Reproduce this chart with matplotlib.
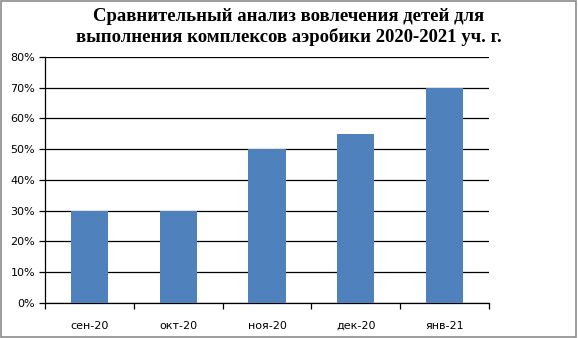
import matplotlib
matplotlib.use("Agg")
import matplotlib.pyplot as plt
from matplotlib.patches import Rectangle
from matplotlib.ticker import FuncFormatter, MultipleLocator

categories = ["сен-20", "окт-20", "ноя-20", "дек-20", "янв-21"]
values = [0.30, 0.30, 0.50, 0.55, 0.70]
title = "Сравнительный анализ вовлечения детей для\nвыполнения комплексов аэробики 2020-2021 уч. г."

fig = plt.figure(figsize=(5.78, 3.38), dpi=100)
fig.patches.append(Rectangle((0.002, 0.003), 0.995, 0.994, transform=fig.transFigure,
                             fill=False, edgecolor="#8c8c8c", linewidth=1.2))
ax = fig.add_axes([0.0779, 0.1036, 0.768, 0.7278])

x = list(range(len(categories)))
ax.bar(x, values, width=0.42, color="#4f81bd", zorder=3)
ax.set_xlim(-0.5, len(categories) - 0.5)
ax.set_ylim(0, 0.8)
ax.yaxis.set_major_locator(MultipleLocator(0.1))
ax.yaxis.set_major_formatter(FuncFormatter(lambda v, p: f"{v*100:.0f}%"))
ax.grid(axis="y", color="black", linewidth=0.9, zorder=0)
for s in ["top", "right"]:
    ax.spines[s].set_visible(False)
ax.spines["left"].set_linewidth(0.9)
ax.spines["bottom"].set_linewidth(0.9)

ax.set_xticks(x)
ax.set_xticklabels(categories)
ax.tick_params(axis="x", length=0, pad=13, labelsize=8)
ax.set_xticks([i - 0.5 for i in range(len(categories) + 1)], minor=True)
ax.tick_params(axis="x", which="minor", length=4, width=0.9, direction="out")
ax.tick_params(axis="y", length=4, width=0.9, direction="out", labelsize=8, pad=3)

fig.text(0.5, 0.92, title, ha="center", va="center", fontsize=13.5,
         fontweight="bold", family="Liberation Serif", linespacing=1.25)

fig.savefig("out.png", dpi=100)
